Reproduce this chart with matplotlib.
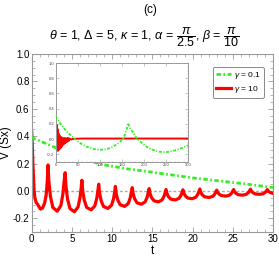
import numpy as np
import matplotlib
matplotlib.use("Agg")
import matplotlib.pyplot as plt

plt.rcParams["font.family"] = ["Liberation Sans", "DejaVu Sans"]
plt.rcParams["mathtext.fontset"] = "custom"
plt.rcParams["mathtext.rm"] = "Liberation Sans"
plt.rcParams["mathtext.it"] = "Liberation Sans:italic"
plt.rcParams["mathtext.bf"] = "Liberation Sans:bold"

# gamma = 10 (red), main panel
t_red = [0.0, 0.03, 0.15, 0.3, 0.4, 0.55, 0.7, 0.85, 1.1, 1.35, 1.6, 1.8, 1.95,
         2.03, 2.13, 2.33, 2.63, 3.18, 3.63, 3.88, 4.03,
         4.16, 4.26, 4.46, 4.76, 5.31, 5.76, 6.01, 6.16,
         6.24, 6.34, 6.54, 6.84, 7.39, 7.84, 8.09, 8.24,
         8.33, 8.43, 8.63, 8.93, 9.48, 9.93, 10.18, 10.33,
         10.4, 10.5, 10.7, 11.0, 11.55, 12.0, 12.25, 12.4,
         12.5, 12.6, 12.8, 13.1, 13.65, 14.1, 14.35, 14.5,
         14.6, 14.7, 14.9, 15.2, 15.75, 16.2, 16.45, 16.6,
         16.7, 16.8, 17.0, 17.3, 17.85, 18.3, 18.55, 18.7,
         18.8, 18.9, 19.1, 19.4, 19.95, 20.4, 20.65, 20.8,
         20.9, 21.0, 21.2, 21.5, 22.05, 22.5, 22.75, 22.9,
         23.0, 23.1, 23.3, 23.6, 24.15, 24.6, 24.85, 25.0,
         25.1, 25.2, 25.4, 25.7, 26.25, 26.7, 26.95, 27.1,
         27.2, 27.3, 27.5, 27.8, 28.35, 28.8, 29.05, 29.2,
         29.3, 29.4, 29.6, 29.85, 30.0]
v_red = [0.43, 0.40, 0.20, 0.0, -0.05, -0.085, -0.095, -0.11, -0.133, -0.125, -0.09, -0.03, 0.08,
         0.19, 0.072, -0.040, -0.121, -0.148, -0.106, -0.022, 0.071,
         0.133, 0.033, -0.061, -0.129, -0.152, -0.117, -0.048, 0.027,
         0.078, 0.002, -0.069, -0.121, -0.138, -0.110, -0.054, 0.008,
         0.049, -0.013, -0.071, -0.114, -0.128, -0.104, -0.056, -0.002,
         0.033, -0.018, -0.066, -0.101, -0.113, -0.092, -0.051, -0.006,
         0.024, -0.018, -0.058, -0.087, -0.097, -0.080, -0.046, -0.008,
         0.017, -0.017, -0.049, -0.072, -0.080, -0.066, -0.039, -0.010,
         0.010, -0.017, -0.042, -0.060, -0.066, -0.055, -0.033, -0.008,
         0.008, -0.015, -0.036, -0.052, -0.057, -0.046, -0.025, -0.002,
         0.014, -0.008, -0.028, -0.043, -0.048, -0.040, -0.024, -0.006,
         0.006, -0.009, -0.024, -0.034, -0.038, -0.031, -0.016, -0.001,
         0.010, -0.004, -0.018, -0.028, -0.031, -0.024, -0.011, 0.003,
         0.013, 0.0, -0.013, -0.022, -0.025, -0.020, -0.009, 0.002,
         0.010, -0.002, -0.010, -0.016, -0.018]

# gamma = 0.1 (green), main panel
t_grn = [0, 1, 2, 3, 4, 5, 6, 7, 8, 9, 10, 12, 14, 16, 18, 20, 22, 24, 26, 28, 30]
v_grn = [0.39, 0.365, 0.34, 0.315, 0.29, 0.265, 0.245, 0.225, 0.205, 0.19, 0.18,
         0.16, 0.145, 0.128, 0.112, 0.095, 0.082, 0.068, 0.055, 0.04, 0.025]

# long-time inset
t_red_tail = [31.4, 35, 40, 60, 100, 200, 300]
v_red_tail = [0.008, -0.005, 0.004, 0.008, 0.008, 0.008, 0.008]
t_grn_in = [0, 10, 25, 40, 50, 62, 75, 88, 100, 112, 125, 138, 145, 152, 157, 161, 164,
            168, 175, 184, 195, 206, 215, 225, 235, 244, 255, 265, 275, 285, 300]
v_grn_in = [0.30, 0.21, 0.10, 0.02, -0.03, -0.075, -0.11, -0.13, -0.14, -0.135, -0.115, -0.07,
            -0.04, 0.0, 0.06, 0.13, 0.21, 0.15, 0.09, 0.01, -0.05, -0.10, -0.13, -0.15,
            -0.165, -0.17, -0.168, -0.155, -0.14, -0.12, -0.08]

green = "#33ee22"
red = "#ff0000"
frame = "#999999"
gdash = (0, (1.6, 0.9, 0.6, 0.9))

fig = plt.figure(figsize=(2.79, 2.62), dpi=100)
ax = fig.add_axes([0.1136, 0.1145, 0.865, 0.6795])

ax.axhline(0, color="#aaaaaa", lw=1.0, ls=(0, (2, 1.5)), zorder=1)
ax.plot(t_grn, v_grn, color=green, lw=2.0, ls=gdash, label=r"$\gamma$ = 0.1", zorder=3)
ax.plot(t_red, v_red, color=red, lw=2.3, label=r"$\gamma$ = 10", zorder=2)

ax.set_xlim(0, 30)
ax.set_ylim(-0.3, 1.0)
ax.set_xticks([0, 5, 10, 15, 20, 25, 30])
ax.set_yticks([-0.2, 0.0, 0.2, 0.4, 0.6, 0.8, 1.0])
ax.set_yticklabels(["-0.2", "0.0", "0.2", "0.4", "0.6", "0.8", "1.0"])
ax.set_xticks(np.arange(0, 31, 1), minor=True)
ax.set_yticks(np.arange(-0.3, 1.001, 0.05), minor=True)
ax.tick_params(which="both", direction="in", top=True, right=True, color=frame,
               labelsize=7, pad=1.5)
ax.tick_params(which="major", length=3.5, width=0.6)
ax.tick_params(which="minor", length=2, width=0.5)
for s in ax.spines.values():
    s.set_color(frame)
    s.set_linewidth(0.8)
ax.set_xlabel("t", fontsize=8.5, labelpad=1)
ax.set_ylabel("V (Sx)", fontsize=8.5, labelpad=1)

leg = ax.legend(loc="upper right", bbox_to_anchor=(0.962, 0.925), fontsize=6,
                handlelength=1.8, handletextpad=0.4, borderpad=0.35, labelspacing=0.3,
                borderaxespad=0, fancybox=True, edgecolor="#888888", framealpha=1)
leg.get_frame().set_linewidth(0.7)

fig.text(0.5376, 0.96, "(c)", ha="center", va="center", fontsize=8.5)
fig.text(0.516, 0.86,
         r"$\theta$ = 1, $\Delta$ = 5, $\kappa$ = 1, $\alpha$ = $\dfrac{\pi}{2.5}$, $\beta$ = $\dfrac{\pi}{10}$",
         ha="center", va="center", fontsize=9)

# inset
ins = fig.add_axes([0.1996, 0.3817, 0.4744, 0.3778])
ins.plot(t_grn_in, v_grn_in, color=green, lw=1.3, ls=gdash, zorder=3)
ins.plot(t_red + t_red_tail, v_red + v_red_tail, color=red, lw=1.4, zorder=2)
ins.set_xlim(0, 300)
ins.set_ylim(-0.3, 1.0)
ins.set_xticks([0, 50, 100, 150, 200, 250, 300])
ins.set_yticks([-0.2, 0.0, 0.2, 0.4, 0.6, 0.8, 1.0])
ins.set_yticklabels(["-0.2", "0.0", "0.2", "0.4", "0.6", "0.8", "1.0"])
ins.set_xticks(np.arange(0, 301, 10), minor=True)
ins.set_yticks(np.arange(-0.3, 1.001, 0.05), minor=True)
ins.tick_params(which="both", direction="in", top=True, right=True, color=frame,
                labelsize=3, pad=1, labelcolor="#444444")
ins.tick_params(which="major", length=2, width=0.4)
ins.tick_params(which="minor", length=1, width=0.3)
for s in ins.spines.values():
    s.set_color(frame)
    s.set_linewidth(0.7)

fig.savefig("out.png", dpi=100)
